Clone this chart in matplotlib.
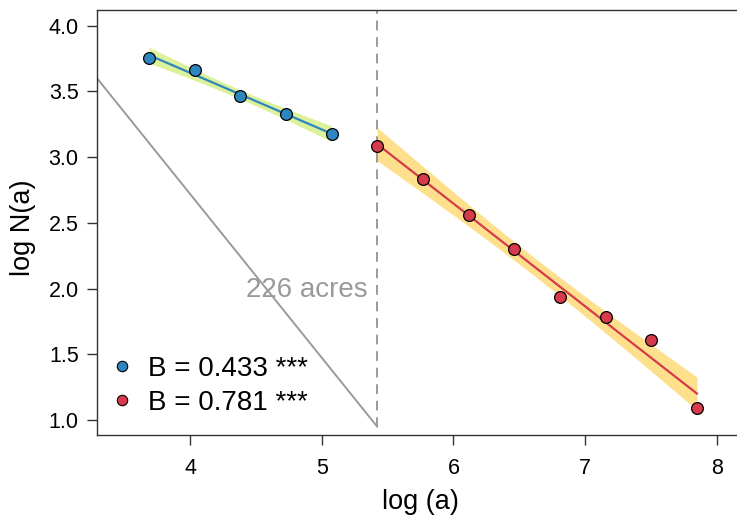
import numpy as np
import matplotlib
matplotlib.use("Agg")
import matplotlib.pyplot as plt
from matplotlib.lines import Line2D

plt.rcParams['font.family'] = ['Liberation Sans', 'DejaVu Sans']

# Data (log area, log N(a))
small_x = [3.689, 4.035, 4.382, 4.729, 5.075]
small_y = [3.756, 3.661, 3.463, 3.330, 3.174]
large_x = [5.421, 5.768, 6.114, 6.461, 6.808, 7.155, 7.501, 7.848]
large_y = [3.084, 2.831, 2.562, 2.303, 1.938, 1.785, 1.606, 1.091]
legend_labels = ["B = 0.433 ***", "B = 0.781 ***"]
threshold_x = 5.4205  # log(226)
threshold_label = "226 acres"
ref_line_x = [3.294, 5.4205]
ref_line_y = [3.60, 0.95]
t_crit = {3: 3.182, 6: 2.447}

xticks = [4, 5, 6, 7, 8]
yticks = [1.0, 1.5, 2.0, 2.5, 3.0, 3.5, 4.0]

blue = "#2E86C1"
red = "#D63A4B"
blue_band = "#DCF29A"
red_band = "#FDDF8C"
gray = "#9A9A9A"

fig = plt.figure(figsize=(7.37, 5.23), dpi=100)
ax = fig.add_axes([97/737, 1-435/523, 1-97/737, (435-10)/523])


def fit_band(x, y):
    x = np.asarray(x); y = np.asarray(y)
    n = len(x)
    b, a = np.polyfit(x, y, 1)
    xs = np.linspace(x.min(), x.max(), 100)
    yhat = a + b * xs
    res = y - (a + b * x)
    s = np.sqrt(np.sum(res**2) / (n - 2))
    sxx = np.sum((x - x.mean())**2)
    se = s * np.sqrt(1/n + (xs - x.mean())**2 / sxx)
    t = t_crit[n - 2]
    return xs, yhat, yhat - t*se, yhat + t*se


for xv, yv, c, bc in [(small_x, small_y, blue, blue_band), (large_x, large_y, red, red_band)]:
    xs, yh, lo, hi = fit_band(xv, yv)
    ax.fill_between(xs, lo, hi, color=bc, lw=0, zorder=1)
    ax.plot(xs, yh, color=c, lw=1.6, zorder=2)
    ax.scatter(xv, yv, s=72, color=c, edgecolor="black", linewidth=0.9, zorder=3)

ax.plot(ref_line_x, ref_line_y, color=gray, lw=1.4, zorder=1.5)
ax.plot([threshold_x, threshold_x], [ref_line_y[1], 4.2], color=gray, lw=1.4,
        ls=(0, (5, 3.5)), zorder=1.5)
ax.text(5.35, 1.99, threshold_label, ha="right", va="center", color=gray, fontsize=20)

ax.set_xlim(3.294, 8.152)
ax.set_ylim(0.886, 4.119)
ax.set_xticks(xticks)
ax.set_xticklabels([str(v) for v in xticks])
ax.set_yticks(yticks)
ax.set_yticklabels([f"{v:.1f}" for v in yticks])

for sp in ["top", "bottom", "left"]:
    ax.spines[sp].set_color("#333333")
    ax.spines[sp].set_linewidth(1.0)
ax.spines["right"].set_visible(False)
ax.tick_params(axis="both", length=7.2, width=1.0, color="#333333", labelsize=15.5)
ax.tick_params(axis="x", pad=9)
ax.tick_params(axis="y", pad=6)

fig.text(420/737, 1-502/523, "log (a)", ha="center", va="center", fontsize=19.5)
fig.text(23/737, 1-228/523, "log N(a)", ha="center", va="center", rotation=90, fontsize=19.5)

handles = [Line2D([], [], ls="none", marker="o", markersize=7.5, markerfacecolor=blue,
                  markeredgecolor="black", markeredgewidth=0.8),
           Line2D([], [], ls="none", marker="o", markersize=7.5, markerfacecolor=red,
                  markeredgecolor="black", markeredgewidth=0.8)]
ax.legend(handles, legend_labels, loc="center left", bbox_to_anchor=(0.0, 0.116),
          frameon=False, fontsize=20, handlelength=1.0, handletextpad=0.43,
          labelspacing=0.3, borderaxespad=0.0)

fig.savefig("out.png", dpi=100)
